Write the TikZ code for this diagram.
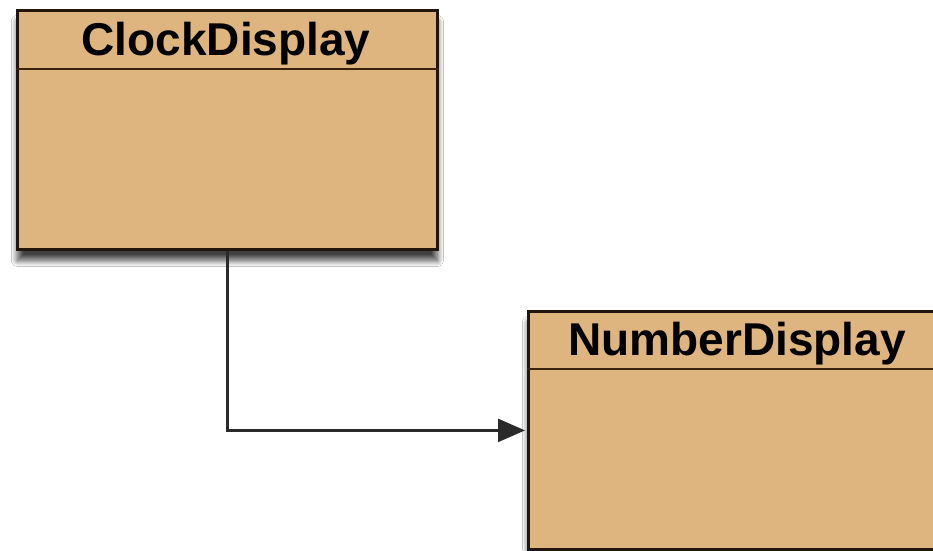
\documentclass[tikz,border=0pt]{standalone}
\usepackage{fontspec}
\setmainfont{Liberation Sans}
\usetikzlibrary{arrows.meta,shadows.blur}
\definecolor{classfill}{HTML}{DEB47F}
\definecolor{classline}{HTML}{22160C}
\definecolor{divline}{HTML}{3A220C}
\definecolor{conn}{HTML}{2A2A2A}
\tikzset{
  classbox/.style={draw=classline, line width=2.8pt, fill=classfill, rectangle,
    anchor=north west, minimum width=420pt, minimum height=239pt, inner sep=0pt},
  shadowed/.style={blur shadow={shadow xshift=0pt, shadow yshift=-11pt, shadow blur steps=14, shadow opacity=75, shadow blur radius=6pt}},
  classtitle/.style={font=\fontsize{46}{50}\selectfont\bfseries, text=black, inner sep=0pt, anchor=base},
  divider/.style={draw=divline, line width=2pt},
  assoc/.style={draw=conn, line width=2.4pt, -{Triangle[length=27pt,width=23pt]}}
}
\begin{document}
\begin{tikzpicture}[x=1pt,y=-1pt]
\useasboundingbox (0,0) rectangle (933,550);
\clip (0,0) rectangle (933,550);
\fill[white] (0,0) rectangle (933,550);
% ClockDisplay
\node[classbox, shadowed] (clock) at (16,9) {};
\node[classtitle] (clocktitle) at (226,55) {ClockDisplay};
\draw[divider] (clock.west |- 0,69) coordinate (cdl) -- (clock.east |- 0,69) coordinate (cdr);
% NumberDisplay
\node[classbox, shadowed, minimum height=238pt] (number) at (527,310) {};
\node[classtitle] (numbertitle) at (737,355) {NumberDisplay};
\draw[divider] (number.west |- 0,369) coordinate (ndl) -- (number.east |- 0,369) coordinate (ndr);
% association
\draw[assoc] (clock.south) |- ([xshift=-2pt]number.west);
\end{tikzpicture}
\end{document}
